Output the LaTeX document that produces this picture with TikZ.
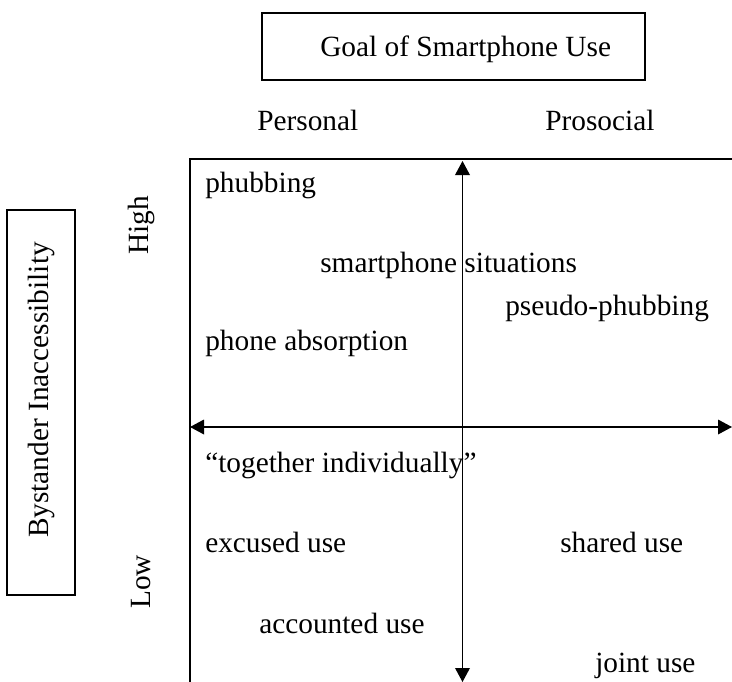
\documentclass[tikz,border=0pt]{standalone}
\usepackage{fontspec}
\setmainfont{Liberation Serif}
\usetikzlibrary{arrows.meta,positioning}
\tikzset{
  lbl/.style={inner sep=0pt, font=\fontsize{22}{26}\selectfont},
  item/.style={lbl, anchor=base west},
  axis/.style={line width=1pt, {Triangle[length=10.5pt,width=11pt]}-{Triangle[length=10.5pt,width=11pt]}},
  frame/.style={line width=1.5pt},
  boxline/.style={line width=0.8pt}
}
\begin{document}
\begin{tikzpicture}[x=0.75pt,y=-0.75pt]
          \useasboundingbox (0,0) rectangle (732,682);

          \draw[boxline] (262,13) rectangle (645,80);
          \node[item] (goal) at (320,56) {Goal of Smartphone Use};
          \node[item] (personal) at (257,130) {Personal};
          \node[item] (prosocial) at (545,130) {Prosocial};

          \draw[boxline] (7,210) rectangle (75,595);
          \node[lbl, rotate=90] (bystander) at (41,390) {Bystander Inaccessibility};
          \node[lbl, rotate=90] (high) at (141,225) {High};
          \node[lbl, rotate=90] (low) at (141,582) {Low};

          \draw[frame] (732,159) -- (190,159) -- (190,682);

          \coordinate (ytop) at (462.5,161);
          \coordinate (ybot) at (462.5,682);
          \coordinate (xleft) at (190,427);
          \coordinate (xright) at (732,427);
          \draw[axis] (ybot) -- (ytop);
          \draw[axis] (xleft) -- (xright);

          \node[item] (phubbing) at (205,192) {phubbing};
          \node[item] (situations) at (320,272) {smartphone situations};
          \node[item] (pseudo) at (505,315) {pseudo-phubbing};
          \node[item] (absorption) at (205,350) {phone absorption};

          \node[item] (together) at (205,472) {“together individually”};
          \node[item] (excused) at (205,552) {excused use};
          \node[item] (shared) at (560,552) {shared use};
          \node[item] (accounted) at (259,633) {accounted use};
          \node[item] (joint) at (595,672) {joint use};
        \end{tikzpicture}
\end{document}
